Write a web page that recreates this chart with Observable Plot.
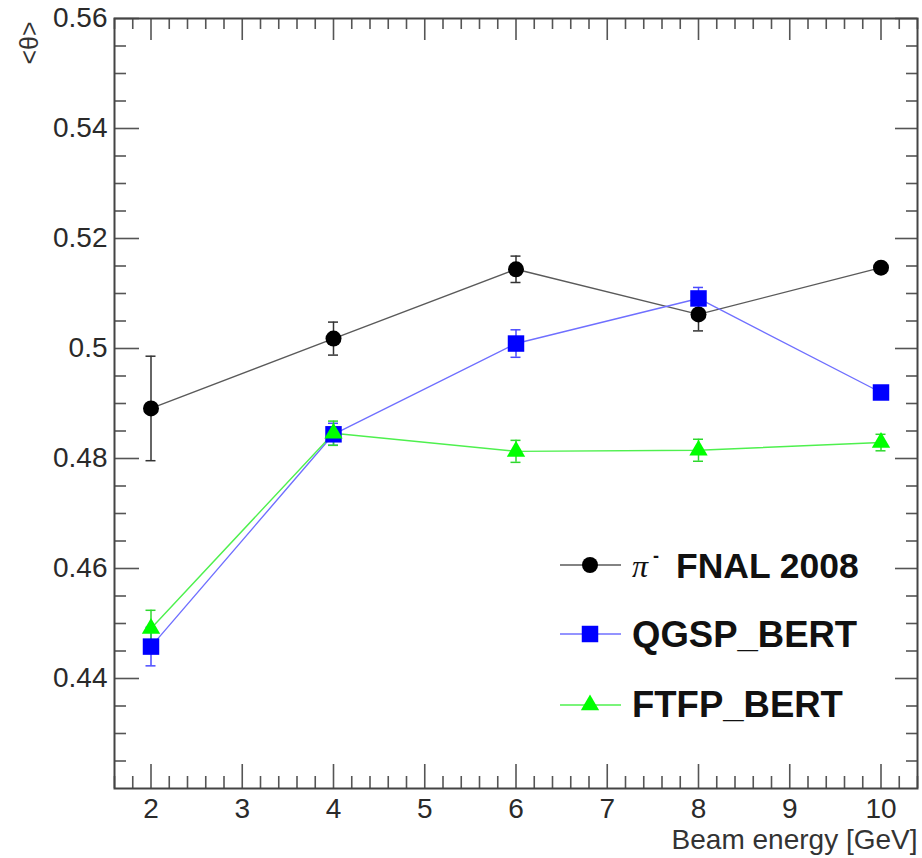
<!DOCTYPE html>
<html><head><meta charset="utf-8">
<script src="https://cdn.jsdelivr.net/npm/d3@7"></script>
<script src="https://cdn.jsdelivr.net/npm/@observablehq/plot@0.6"></script>
<style>
body{margin:0;background:#fff;}
#chart{width:922px;height:858px;}
</style></head><body><div id="chart"></div>
<script>
// ---- data ----
const energies = [2, 4, 6, 8, 10];
const fnalValues = [0.4891, 0.5018, 0.5144, 0.5062, 0.5147];
const fnalErrors = [0.0095, 0.0030, 0.0024, 0.0030, 0.0008];
const qgspValues = [0.4458, 0.4844, 0.5009, 0.5091, 0.4920];
const qgspErrors = [0.0035, 0.0020, 0.0025, 0.0020, 0.0010];
const ftfpValues = [0.4491, 0.4846, 0.4813, 0.4815, 0.4829];
const ftfpErrors = [0.0033, 0.0022, 0.0020, 0.0020, 0.0015];
const seriesNames = ["FNAL 2008", "QGSP_BERT", "FTFP_BERT"];
const xTickLabels = [2, 3, 4, 5, 6, 7, 8, 9, 10];
const yTickLabels = [0.44, 0.46, 0.48, 0.5, 0.52, 0.54, 0.56];
const xTitle = "Beam energy [GeV]";
const yTitle = "<θ>";

// ---- layout ----
const W = 922, H = 858, mL = 114, mR = 5, mT = 18, mB = 70;
const xDom = [1.6, 10.4], yDom = [0.42, 0.56];
const ux = (xDom[1] - xDom[0]) / (W - mL - mR);  // x units per pixel
const uy = (yDom[1] - yDom[0]) / (H - mT - mB);  // y units per pixel

const styles = [
  {line: "#5a5a5a", err: "#333", fill: "#000", symbol: "circle", r: 8},
  {line: "#6f6fff", err: "#4a4aff", fill: "#0000ff", symbol: "square", r: 9.3},
  {line: "#4ef04e", err: "#2ed82e", fill: "#00ff00", symbol: "triangle", r: 6.8}
];
const seriesVals = [fnalValues, qgspValues, ftfpValues];
const seriesErrs = [fnalErrors, qgspErrors, ftfpErrors];
const tables = seriesVals.map((vals, s) => energies.map((x, i) => ({x, y: vals[i], e: seriesErrs[s][i]})));

const xMinor = d3.range(8, 53).map(i => i / 5).filter(v => Math.abs(v - Math.round(v)) > 1e-9);
const yMinor = d3.range(84, 113).filter(i => i % 4 !== 0).map(i => i / 200);
const xMajor = xTickLabels;
const yMajor = yTickLabels;
const tickColor = "#555";

const marks = [];
// ticks (ROOT style, inward, on all four sides)
marks.push(Plot.ruleX(xMajor, {x: d => d, y1: yDom[0], y2: yDom[0] + 24 * uy, stroke: tickColor, strokeWidth: 1.6}));
marks.push(Plot.ruleX(xMinor, {x: d => d, y1: yDom[0], y2: yDom[0] + 12 * uy, stroke: tickColor, strokeWidth: 1.6}));
marks.push(Plot.ruleX(xMajor, {x: d => d, y1: yDom[1], y2: yDom[1] - 22 * uy, stroke: tickColor, strokeWidth: 1.6}));
marks.push(Plot.ruleX(xMinor, {x: d => d, y1: yDom[1], y2: yDom[1] - 11 * uy, stroke: tickColor, strokeWidth: 1.6}));
marks.push(Plot.ruleY(yMajor, {y: d => d, x1: xDom[0], x2: xDom[0] + 25 * ux, stroke: tickColor, strokeWidth: 1.6}));
marks.push(Plot.ruleY(yMinor, {y: d => d, x1: xDom[0], x2: xDom[0] + 12 * ux, stroke: tickColor, strokeWidth: 1.6}));
marks.push(Plot.ruleY(yMajor, {y: d => d, x1: xDom[1], x2: xDom[1] - 22 * ux, stroke: tickColor, strokeWidth: 1.6}));
marks.push(Plot.ruleY(yMinor, {y: d => d, x1: xDom[1], x2: xDom[1] - 11 * ux, stroke: tickColor, strokeWidth: 1.6}));

// series
const cap = 5 * ux;
tables.forEach((t, s) => {
  const st = styles[s];
  marks.push(Plot.line(t, {x: "x", y: "y", stroke: st.line, strokeWidth: 1.4}));
  marks.push(Plot.ruleX(t, {x: "x", y1: d => d.y - d.e, y2: d => d.y + d.e, stroke: st.err, strokeWidth: 1.5}));
  marks.push(Plot.ruleY(t, {y: d => d.y + d.e, x1: d => d.x - cap, x2: d => d.x + cap, stroke: st.err, strokeWidth: 1.5}));
  marks.push(Plot.ruleY(t, {y: d => d.y - d.e, x1: d => d.x - cap, x2: d => d.x + cap, stroke: st.err, strokeWidth: 1.5}));
});
tables.forEach((t, s) => {
  const st = styles[s];
  marks.push(Plot.dot(t, {x: "x", y: "y", symbol: st.symbol, r: st.r, fill: st.fill, stroke: "none"}));
});

marks.push(Plot.frame({stroke: "#444", strokeWidth: 2}));
marks.push(Plot.axisX({ticks: xTickLabels, tickSize: 0, tickPadding: 10, fontSize: 28, fill: "#2a2a2a", label: null, tickFormat: d => String(d)}));
marks.push(Plot.axisY({ticks: yTickLabels, tickSize: 0, tickPadding: 7, fontSize: 28, fill: "#2a2a2a", label: null, tickFormat: d => String(+d.toFixed(2))}));
marks.push(Plot.text([xTitle], {frameAnchor: "bottom-right", textAnchor: "end", lineAnchor: "bottom", dy: 60, fontSize: 28, fill: "#333"}));
marks.push(Plot.text([yTitle], {frameAnchor: "top-left", textAnchor: "end", rotate: -90, dx: -94, dy: 3, fontSize: 25, fill: "#333"}));

const chart = Plot.plot({
  width: W, height: H,
  marginLeft: mL, marginRight: mR, marginTop: mT, marginBottom: mB,
  x: {domain: xDom},
  y: {domain: yDom},
  style: {fontFamily: "'Liberation Sans', Arial, sans-serif", fontSize: "28px", background: "#fff", overflow: "visible"},
  marks
});
document.getElementById("chart").appendChild(chart);

// ---- legend (inside the frame, ROOT TLegend style) ----
const svg = d3.select(chart);
const lg = svg.append("g").attr("font-family", "'Liberation Sans', Arial, sans-serif").attr("text-anchor", "start");
const rows = [565, 634, 705];
rows.forEach((cy, s) => {
  const st = styles[s];
  lg.append("line").attr("x1", 560).attr("x2", 621).attr("y1", cy).attr("y2", cy)
    .attr("stroke", st.line).attr("stroke-width", 1.4);
  const sym = d3.symbol().type(st.symbol === "circle" ? d3.symbolCircle : st.symbol === "square" ? d3.symbolSquare : d3.symbolTriangle)
    .size(Math.PI * st.r * st.r);
  lg.append("path").attr("d", sym()).attr("transform", `translate(590,${cy})`).attr("fill", st.fill);
});
// row 1: π⁻ FNAL 2008
lg.append("text").attr("x", 632).attr("y", 577).attr("font-family", "'Liberation Serif', 'Times New Roman', serif")
  .attr("font-style", "italic").attr("font-size", 32).attr("fill", "#111").text("π");
lg.append("text").attr("x", 653).attr("y", 562).attr("font-size", 18).attr("font-weight", "bold").attr("fill", "#111").text("-");
lg.append("text").attr("x", 676).attr("y", 578).attr("font-size", 35.5).attr("font-weight", "bold").attr("fill", "#111").text(seriesNames[0]);
lg.append("text").attr("x", 632).attr("y", 647).attr("font-size", 36.5).attr("font-weight", "bold").attr("fill", "#111").text(seriesNames[1]);
lg.append("text").attr("x", 632).attr("y", 717).attr("font-size", 36.5).attr("font-weight", "bold").attr("fill", "#111").text(seriesNames[2]);
</script></body></html>
